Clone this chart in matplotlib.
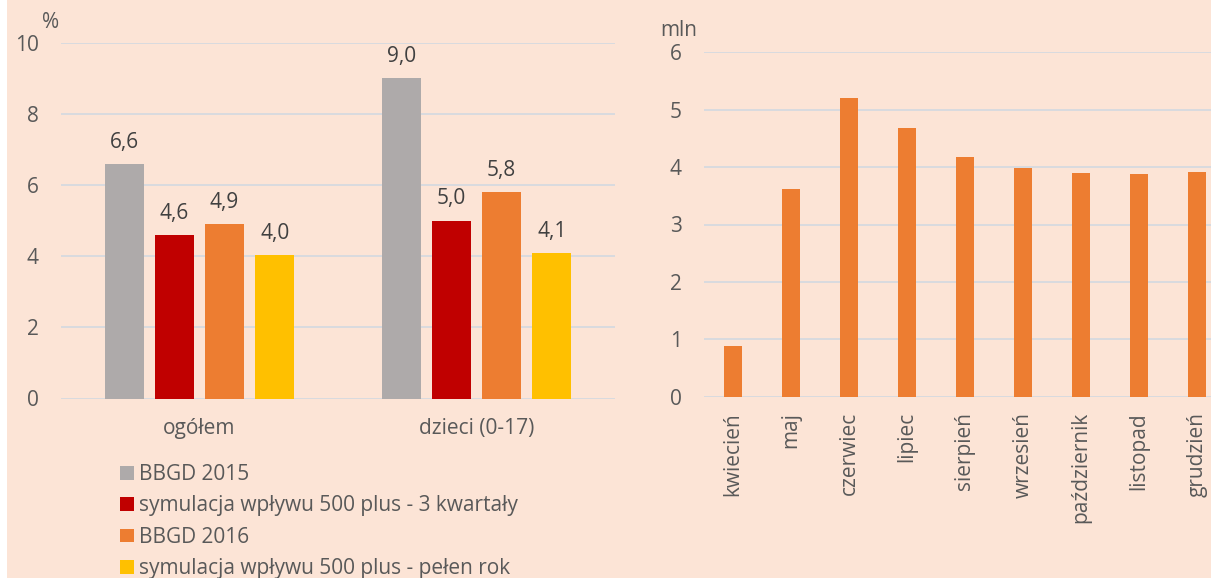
import numpy as np
import matplotlib
matplotlib.use("Agg")
import matplotlib.pyplot as plt
from matplotlib.patches import Rectangle

# lewy wykres - stopa ubóstwa skrajnego (%)
groups = ["ogółem", "dzieci (0-17)"]
series_names = ["BBGD 2015",
                "symulacja wpływu 500 plus - 3 kwartały",
                "BBGD 2016",
                "symulacja wpływu 500 plus - pełen rok"]
bbgd2015 = [6.6, 9.0]
sym_3kw = [4.6, 5.0]
bbgd2016 = [4.9, 5.8]
sym_rok = [4.04, 4.1]
left_ticks = [0, 2, 4, 6, 8, 10]

# prawy wykres - liczba dzieci objętych (mln)
months = ["kwiecień", "maj", "czerwiec", "lipiec", "sierpień",
          "wrzesień", "październik", "listopad", "grudzień"]
mln = [0.89, 3.62, 5.21, 4.68, 4.18, 3.98, 3.90, 3.885, 3.915]
right_ticks = [0, 1, 2, 3, 4, 5, 6]

colors = ["#aeaaaa", "#c00000", "#ed7d31", "#ffc000"]
bg = "#fce4d6"
grid_c = "#d6dadf"
txt_c = "#595959"
lbl_c = "#404040"

plt.rcParams['font.family'] = ['Open Sans', 'DejaVu Sans']
FS = 15

fig = plt.figure(figsize=(12.11, 5.78), dpi=100, facecolor=bg)
fig.patches.append(Rectangle((0, 0), 7 / 1211, 1, transform=fig.transFigure,
                             facecolor="white", edgecolor="none", zorder=0))

def style_axis(ax, ticks):
    ax.set_facecolor("none")
    for s in ax.spines.values():
        s.set_visible(False)
    ax.set_yticks(ticks)
    ax.set_ylim(ticks[0], ticks[-1])
    ax.yaxis.grid(True, color=grid_c, linewidth=1.3)
    ax.set_axisbelow(True)
    ax.tick_params(axis="both", length=0, labelsize=FS, labelcolor=txt_c)

# ---- lewy
ax1 = fig.add_axes([61 / 1211, 179.5 / 578, 554 / 1211, 355.8 / 578])
style_axis(ax1, left_ticks)
ax1.tick_params(axis="y", pad=16)
ax1.tick_params(axis="x", pad=14)
x = np.arange(len(groups))
step, w = 0.181, 0.1426
all_series = [bbgd2015, sym_3kw, bbgd2016, sym_rok]
handles = []
for i, vals in enumerate(all_series):
    b = ax1.bar(x + (i - 1.5) * step, vals, w, color=colors[i], label=series_names[i])
    ax1.bar_label(b, labels=[("%.1f" % v).replace(".", ",") for v in vals],
                  padding=8, fontsize=FS, color=lbl_c)
    handles.append(b)
ax1.set_xticks(x)
ax1.set_xticklabels(groups)
ax1.set_xlim(-0.5, 1.5)
fig.text(42 / 1211, 1 - 22 / 578, "%", fontsize=FS, color=txt_c, va="center", ha="left")

fig.legend(handles=handles, labels=series_names, loc="upper left",
           bbox_to_anchor=(120 / 1211, 1 - 464 / 578), frameon=False,
           fontsize=FS, labelcolor=txt_c, handlelength=0.65, handleheight=0.65,
           handletextpad=0.25, labelspacing=0.5, borderaxespad=0, borderpad=0)

# ---- prawy
ax2 = fig.add_axes([704 / 1211, 181.3 / 578, 522 / 1211, 344.4 / 578])
style_axis(ax2, right_ticks)
ax2.tick_params(axis="y", pad=16)
ax2.tick_params(axis="x", pad=11)
xm = np.arange(len(months))
ax2.bar(xm, mln, 0.31, color=colors[2])
ax2.set_xticks(xm)
ax2.set_xticklabels(months, rotation=90)
ax2.set_xlim(-0.5, len(months) - 0.5)
fig.text(679 / 1211, 1 - 30 / 578, "mln", fontsize=FS, color=txt_c, va="center", ha="center")

fig.savefig("out.png", dpi=100, facecolor=fig.get_facecolor())
